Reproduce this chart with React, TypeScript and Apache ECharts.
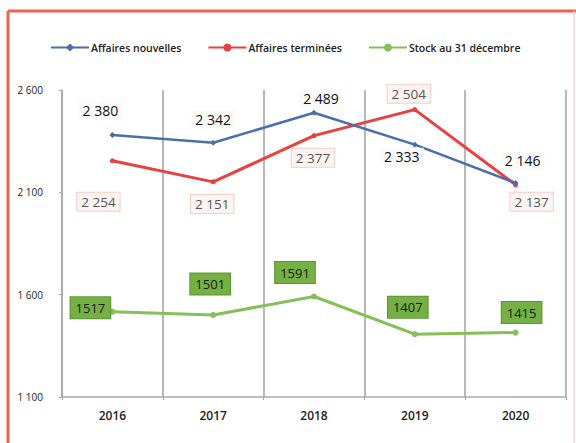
import React, { useEffect, useRef } from "react";
import * as echarts from "echarts";

const years = ["2016", "2017", "2018", "2019", "2020"];
const nouvelles = [2380, 2342, 2489, 2333, 2146];
const terminees = [2254, 2151, 2377, 2504, 2137];
const stock = [1517, 1501, 1591, 1407, 1415];
const yTicks = [1100, 1600, 2100, 2600];

const blueOffsets = [[-12, -25], [0, -23], [7, -14], [-13, 12], [7, -22]];
const redOffsets = [[-14, 41], [-1, 22], [-1, 22], [-6, -16], [16, 17]];
const greenOffsets = [[-22, -4], [-3, -31], [-19, -24], [-7, -27], [6, -20]];

const sp = (v: number) => String(v).replace(/\B(?=(\d{3})+(?!\d))/g, " ");
const FONT = "'Open Sans', 'Noto Sans', sans-serif";

export default function App() {
  const ref = useRef<HTMLDivElement>(null);
  useEffect(() => {
    if (!ref.current) return;
    const chart = echarts.init(ref.current, null, { renderer: "svg" });
    const mk = (vals: number[], offs: number[][], style: any, fmt: (v: number) => string) =>
      vals.map((v, i) => ({
        value: v,
        label: {
          show: true,
          position: "inside",
          offset: offs[i],
          formatter: fmt(v),
          ...style,
        },
      }));
    chart.setOption({
      animation: false,
      backgroundColor: "#ffffff",
      textStyle: { fontFamily: FONT },
      legend: {
        left: 45,
        top: 37,
        itemGap: 26,
        itemWidth: 38,
        itemHeight: 10,
        textStyle: { fontFamily: FONT, fontSize: 10.5, fontWeight: 600, color: "#222", padding: [0, 0, 0, -3] },
      },
      grid: { left: 62, right: 10, top: 90, bottom: 46 },
      xAxis: {
        type: "category",
        data: years,
        boundaryGap: true,
        axisLine: { show: true, lineStyle: { color: "#a8a8a8", width: 1.5 } },
        axisTick: { show: true, length: 3, lineStyle: { color: "#a8a8a8" } },
        splitLine: { show: true, lineStyle: { color: "#a0a0a0", width: 1.5 } },
        axisLabel: { fontFamily: FONT, fontSize: 12, fontWeight: 600, color: "#222", margin: 12 },
      },
      yAxis: {
        type: "value",
        min: 1100,
        max: 2600,
        axisLine: { show: true, lineStyle: { color: "#a8a8a8", width: 1.5 } },
        axisTick: { show: true, length: 3, customValues: yTicks, lineStyle: { color: "#a8a8a8" } },
        splitLine: { show: false },
        axisLabel: {
          customValues: yTicks,
          formatter: (v: number) => sp(v),
          fontFamily: FONT,
          fontSize: 10,
          color: "#222",
          margin: 19,
        },
      },
      graphic: [
        { type: "line", shape: { x1: 8, y1: 11, x2: 8, y2: 450 }, style: { stroke: "#e8674d", lineWidth: 3 }, z: 100 },
        { type: "line", shape: { x1: 8, y1: 11, x2: 576, y2: 11 }, style: { stroke: "#e8674d", lineWidth: 3 }, z: 100 },
        { type: "line", shape: { x1: 574, y1: 11, x2: 574, y2: 450 }, style: { stroke: "#f6d6cf", lineWidth: 1.5 }, z: 100 },
      ],
      series: [
        {
          name: "Affaires nouvelles",
          type: "line",
          color: "#4a6fa8",
          lineStyle: { width: 2.5, color: "#4a6fa8" },
          symbol: "diamond",
          symbolSize: 6,
          z: 3,
          data: mk(
            nouvelles,
            blueOffsets,
            { fontFamily: FONT, fontSize: 14, color: "#111", backgroundColor: "#fafafa", padding: [2, 4] },
            sp
          ),
        },
        {
          name: "Affaires terminées",
          type: "line",
          color: "#e8403f",
          lineStyle: { width: 3, color: "#e8403f" },
          symbol: "circle",
          symbolSize: 5,
          z: 2,
          data: mk(
            terminees,
            redOffsets,
            {
              fontFamily: FONT,
              fontSize: 13.5,
              color: "#555",
              backgroundColor: "#fdf3f1",
              borderColor: "#f4cfc7",
              borderWidth: 1,
              padding: [2, 4],
            },
            sp
          ),
        },
        {
          name: "Stock au 31 décembre",
          type: "line",
          color: "#86bf57",
          lineStyle: { width: 3, color: "#86bf57" },
          symbol: "circle",
          symbolSize: 6,
          z: 2,
          data: mk(
            stock,
            greenOffsets,
            {
              fontFamily: FONT,
              fontSize: 13,
              fontWeight: 500,
              color: "#1a1a1a",
              backgroundColor: "#74b043",
              borderColor: "#5e9436",
              borderWidth: 1,
              padding: [4, 5],
            },
            (v: number) => String(v)
          ),
        },
      ],
    });
    return () => chart.dispose();
  }, []);
  return <div ref={ref} style={{ width: 576, height: 443, position: "absolute", left: 0, top: 0 }} />;
}
